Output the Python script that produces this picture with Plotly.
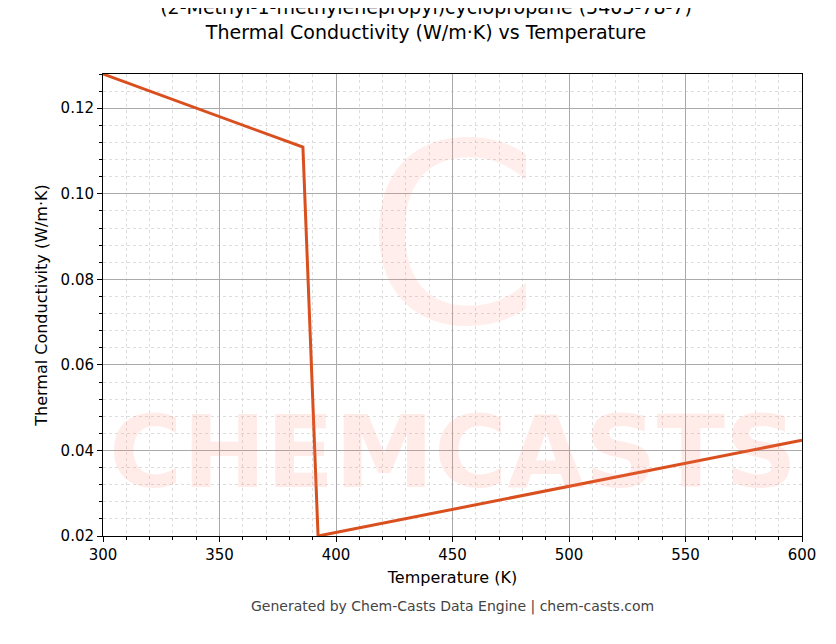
import plotly.graph_objects as go

# === Data ===
temperature_k = [300, 385.8, 392.3, 600]
conductivity = [0.128, 0.1109, 0.0200, 0.0424]

x_ticks = [300, 350, 400, 450, 500, 550, 600]
y_ticks = [0.02, 0.04, 0.06, 0.08, 0.10, 0.12]

fig = go.Figure()

fig.add_trace(go.Scatter(
    x=temperature_k,
    y=conductivity,
    mode="lines",
    line=dict(color="#d94f1e", width=3),
    showlegend=False,
))

# faint watermark
fig.add_annotation(
    text="<b>CHEMCASTS</b>", x=0.5, y=0.05, xref="paper", yref="paper", yanchor="bottom",
    showarrow=False, font=dict(size=100, color="rgba(255,120,100,0.15)", family="DejaVu Sans"),
)
fig.add_annotation(
    text="C", x=0.5, y=0.97, xref="paper", yref="paper", yanchor="top",
    showarrow=False, font=dict(size=250, color="rgba(255,120,100,0.13)", family="DejaVu Sans"),
)

fig.add_annotation(
    text="Generated by Chem-Casts Data Engine | chem-casts.com",
    x=0.5, y=-0.175, xref="paper", yref="paper", showarrow=False,
    font=dict(size=14, color="#444"),
)

axis_common = dict(
    showline=True, linecolor="black", mirror=True,
    ticks="outside", ticklen=5, tickcolor="black",
    showgrid=True, gridcolor="#aaaaaa", gridwidth=0.8,
    zeroline=False,
    tickfont=dict(size=15, color="black"),
)

fig.update_layout(
    width=836, height=644,
    margin=dict(l=95, r=42, t=66, b=116),
    plot_bgcolor="white", paper_bgcolor="white",
    font=dict(family="DejaVu Sans", color="black"),
    title=dict(
        text="(2-Methyl-1-methylenepropyl)cyclopropane (5405-78-7)<br>Thermal Conductivity (W/m·K) vs Temperature",
        x=0.5, xanchor="center", y=0.99, yanchor="top",
        font=dict(size=19),
    ),
    xaxis=dict(
        axis_common, range=[300, 600], tickvals=x_ticks,
        title=dict(text="Temperature (K)", font=dict(size=16), standoff=8),
        minor=dict(ticks="outside", ticklen=3, dtick=10, showgrid=True,
                   gridcolor="#dddddd", griddash="dot", gridwidth=0.5),
    ),
    yaxis=dict(
        axis_common, range=[0.02, 0.128], tickvals=y_ticks, tickformat=".2f",
        title=dict(text="Thermal Conductivity (W/m·K)", font=dict(size=16), standoff=8),
        minor=dict(ticks="outside", ticklen=3, dtick=0.004, showgrid=True,
                   gridcolor="#dddddd", griddash="dot", gridwidth=0.5),
    ),
)

fig.write_html("out.html")
